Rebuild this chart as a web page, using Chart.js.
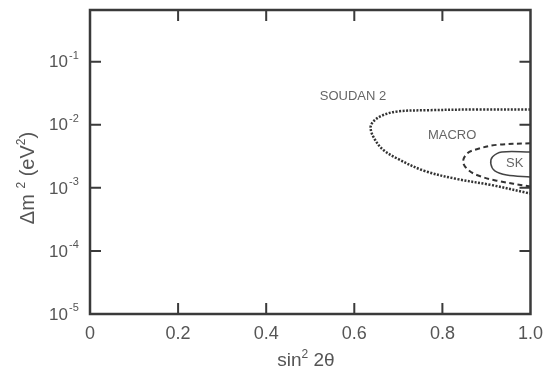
<!DOCTYPE html>
<html>
<head>
<meta charset="utf-8">
<script src="https://cdn.jsdelivr.net/npm/chart.js@4.4.1/dist/chart.umd.min.js"></script>
<style>
  body { margin: 0; background: #fff; }
  #wrap { width: 552px; height: 374px; }
</style>
</head>
<body>
<div id="wrap"><canvas id="chart"></canvas></div>
<script>
// axis ticks
const xTicks = [0, 0.2, 0.4, 0.6, 0.8, 1.0];
const xTickLabels = ['0', '0.2', '0.4', '0.6', '0.8', '1.0'];
const yTicks = [1e-5, 1e-4, 1e-3, 1e-2, 1e-1];
const yExponents = ['-5', '-4', '-3', '-2', '-1'];

// axis titles, split into normal / superscript parts
const xTitleParts = [['sin', false], ['2', true], [' 2θ', false]];
const yTitleParts = [['Δm ', false], ['2', true], [' (eV', false], ['2', true], [')', false]];

// contours (sin^2 2theta, dm^2)
const soudanX = [1.0, 0.878, 0.766, 0.698, 0.664, 0.644, 0.637, 0.644, 0.664, 0.698, 0.759, 0.833, 0.908, 1.0];
const soudanY = [0.0175, 0.0175, 0.017, 0.0163, 0.0141, 0.0114, 0.0091, 0.0063, 0.0041, 0.0029, 0.00186, 0.00138, 0.00112, 0.00081];

const macroX = [1.0, 0.923, 0.878, 0.856, 0.847, 0.856, 0.878, 0.923, 1.0];
const macroY = [0.0051, 0.0048, 0.0041, 0.0035, 0.0026, 0.0020, 0.0016, 0.0013, 0.00105];

const skX = [1.0, 0.935, 0.914, 0.910, 0.919, 0.946, 1.0];
const skY = [0.0037, 0.0037, 0.0031, 0.0024, 0.00186, 0.0016, 0.00148];

// region labels
const labelText = ['SOUDAN 2', 'MACRO', 'SK'];
const labelX = [0.597, 0.822, 0.964];
const labelY = [0.028, 0.0068, 0.0024];

const FONT = '"Liberation Sans", Arial, sans-serif';
const toPoints = (xs, ys) => xs.map((x, i) => ({ x: x, y: ys[i] }));

// draws text with superscripts centred on (0,0) baseline
function richText(ctx, parts, size, supSize, rise) {
    const widths = parts.map(p => {
        ctx.font = (p[1] ? supSize : size) + 'px ' + FONT;
        return ctx.measureText(p[0]).width;
    });
    let x = -widths.reduce((a, b) => a + b, 0) / 2;
    ctx.textAlign = 'left';
    ctx.textBaseline = 'alphabetic';
    parts.forEach((p, i) => {
        ctx.font = (p[1] ? supSize : size) + 'px ' + FONT;
        ctx.fillText(p[0], x, p[1] ? -rise : 0);
        x += widths[i];
    });
}

const frame = {
    id: 'frame',
    afterDraw(chart) {
        const ctx = chart.ctx;
        const a = chart.chartArea;
        const xs = chart.scales.x;
        const ys = chart.scales.y;
        ctx.save();
        ctx.strokeStyle = '#3a3a3a';
        ctx.lineWidth = 2.5;
        ctx.strokeRect(a.left, a.top, a.right - a.left, a.bottom - a.top);

        // inward ticks
        ctx.lineWidth = 2;
        xTicks.slice(1, -1).forEach(v => {
            const px = xs.getPixelForValue(v);
            ctx.beginPath();
            ctx.moveTo(px, a.bottom); ctx.lineTo(px, a.bottom - 11);
            ctx.moveTo(px, a.top); ctx.lineTo(px, a.top + 11);
            ctx.stroke();
        });
        yTicks.slice(1).forEach(v => {
            const py = ys.getPixelForValue(v);
            ctx.beginPath();
            ctx.moveTo(a.left, py); ctx.lineTo(a.left + 11, py);
            ctx.moveTo(a.right, py); ctx.lineTo(a.right - 11, py);
            ctx.stroke();
        });

        // y tick labels 10^n
        ctx.fillStyle = '#555';
        yTicks.forEach((v, i) => {
            const py = ys.getPixelForValue(v);
            ctx.font = '17px ' + FONT;
            ctx.textAlign = 'right';
            ctx.textBaseline = 'middle';
            ctx.fillText('10', 68, py + 1);
            ctx.font = '11px ' + FONT;
            ctx.textAlign = 'left';
            ctx.textBaseline = 'alphabetic';
            ctx.fillText(yExponents[i], 69, py - 3);
        });

        // axis titles
        ctx.save();
        ctx.translate(306, 366);
        richText(ctx, xTitleParts, 19, 12, 8);
        ctx.restore();

        ctx.save();
        ctx.translate(34, 178);
        ctx.rotate(-Math.PI / 2);
        richText(ctx, yTitleParts, 20, 12, 9);
        ctx.restore();

        // region labels
        ctx.fillStyle = '#666';
        ctx.textAlign = 'center';
        ctx.textBaseline = 'middle';
        labelText.forEach((t, i) => {
            ctx.font = '13px ' + FONT;
            ctx.fillText(t, xs.getPixelForValue(labelX[i]), ys.getPixelForValue(labelY[i]));
        });
        ctx.restore();
    }
};

new Chart(document.getElementById('chart'), {
    type: 'scatter',
    data: {
        datasets: [
            {
                label: 'SOUDAN 2',
                data: toPoints(soudanX, soudanY),
                showLine: true,
                borderColor: '#333',
                borderWidth: 2.5,
                borderDash: [2, 1.5],
                pointRadius: 0,
                tension: 0.35,
                fill: false
            },
            {
                label: 'MACRO',
                data: toPoints(macroX, macroY),
                showLine: true,
                borderColor: '#333',
                borderWidth: 2,
                borderDash: [5, 3.5],
                pointRadius: 0,
                tension: 0.35,
                fill: false
            },
            {
                label: 'SK',
                data: toPoints(skX, skY),
                showLine: true,
                borderColor: '#444',
                borderWidth: 1.5,
                pointRadius: 0,
                tension: 0.35,
                fill: false
            }
        ]
    },
    options: {
        responsive: true,
        maintainAspectRatio: false,
        animation: false,
        layout: { padding: { top: 10, right: 18, left: 0, bottom: 0 } },
        plugins: {
            legend: { display: false },
            tooltip: { enabled: false }
        },
        scales: {
            x: {
                type: 'linear',
                min: 0,
                max: 1,
                grid: { display: false, drawTicks: false },
                border: { display: false },
                afterBuildTicks: s => { s.ticks = xTicks.map(v => ({ value: v })); },
                afterFit: s => { s.height = 60; },
                ticks: {
                    color: '#555',
                    padding: 9,
                    maxRotation: 0,
                    font: { family: FONT, size: 18 },
                    callback: (v, i) => xTickLabels[i]
                }
            },
            y: {
                type: 'logarithmic',
                min: 1e-5,
                max: 0.66,
                grid: { display: false, drawTicks: false },
                border: { display: false },
                afterBuildTicks: s => { s.ticks = yTicks.map(v => ({ value: v })); },
                afterFit: s => { s.width = 90; },
                ticks: { display: false }
            }
        }
    },
    plugins: [frame]
});
</script>
</body>
</html>
